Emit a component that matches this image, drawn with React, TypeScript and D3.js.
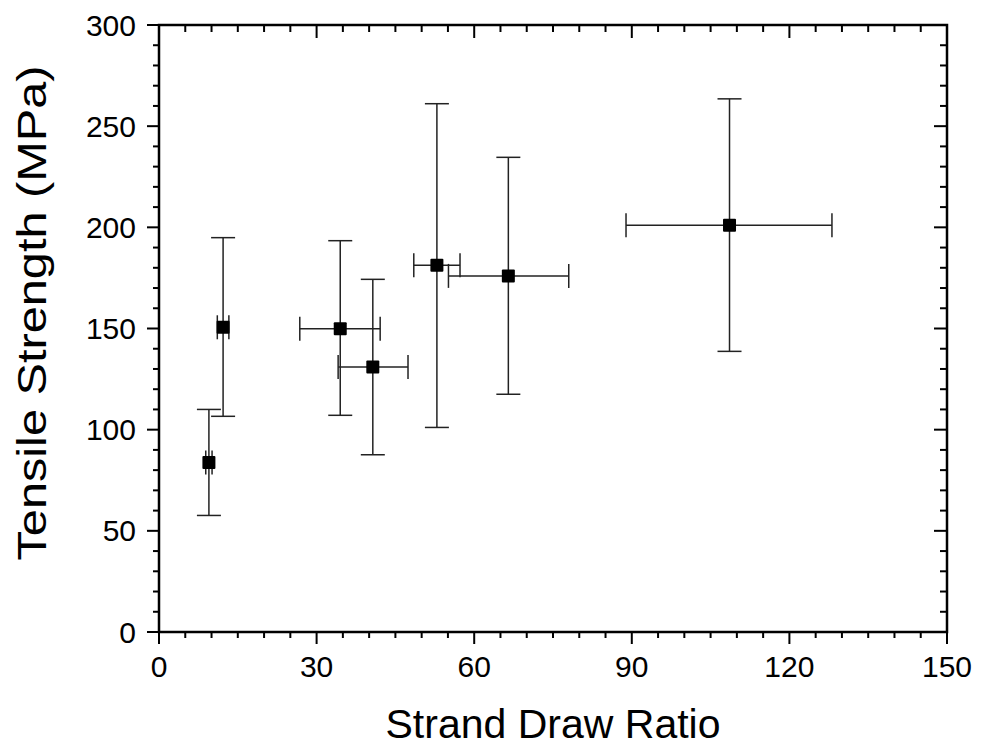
import React from "react";
import * as d3 from "d3";

const drawRatio = [9.5, 12.2, 34.5, 40.7, 52.9, 66.5, 108.6];
const strength = [83.8, 150.6, 149.9, 131.0, 181.2, 176.0, 201.0];
const ratioLow = [8.9, 11.1, 26.8, 34.1, 48.5, 55.1, 88.9];
const ratioHigh = [10.1, 13.3, 42.1, 47.4, 57.3, 78.0, 128.1];
const strengthLow = [57.6, 106.6, 107.1, 87.6, 101.1, 117.5, 138.7];
const strengthHigh = [110.0, 194.9, 193.4, 174.3, 261.1, 234.6, 263.5];

const xMajor = [0, 30, 60, 90, 120, 150];
const yMajor = [0, 50, 100, 150, 200, 250, 300];

const W = 981;
const H = 747;
const M = { left: 159, right: 947, top: 25, bottom: 632 };
const FONT = "'Liberation Sans', Arial, sans-serif";

export default function App() {
  const x = d3.scaleLinear().domain([0, 150]).range([M.left, M.right]);
  const y = d3.scaleLinear().domain([0, 300]).range([M.bottom, M.top]);
  const xMinor = d3.range(0, 151, 5).filter((v) => v % 30 !== 0);
  const yMinor = d3.range(0, 301, 10).filter((v) => v % 50 !== 0);
  const cap = 12;
  const ebColor = "#222";
  const pts = drawRatio.map((d, i) => ({
    x: d,
    y: strength[i],
    xl: ratioLow[i],
    xh: ratioHigh[i],
    yl: strengthLow[i],
    yh: strengthHigh[i],
  }));

  return (
    <svg width={W} height={H} style={{ position: "absolute", left: 0, top: 0, background: "#fff" }}>
      <rect x={0} y={0} width={W} height={H} fill="#fff" />
      {/* error bars */}
      <g stroke={ebColor} strokeWidth={1.5} fill="none">
        {pts.map((p, i) => (
          <g key={i}>
            <line x1={x(p.x)} x2={x(p.x)} y1={y(p.yl)} y2={y(p.yh)} />
            <line x1={x(p.x) - cap} x2={x(p.x) + cap} y1={y(p.yl)} y2={y(p.yl)} />
            <line x1={x(p.x) - cap} x2={x(p.x) + cap} y1={y(p.yh)} y2={y(p.yh)} />
            <line x1={x(p.xl)} x2={x(p.xh)} y1={y(p.y)} y2={y(p.y)} />
            <line x1={x(p.xl)} x2={x(p.xl)} y1={y(p.y) - cap} y2={y(p.y) + cap} />
            <line x1={x(p.xh)} x2={x(p.xh)} y1={y(p.y) - cap} y2={y(p.y) + cap} />
          </g>
        ))}
      </g>
      {/* markers */}
      <g fill="#000">
        {pts.map((p, i) => (
          <rect key={i} x={x(p.x) - 6.5} y={y(p.y) - 6.5} width={13} height={13} rx={1} />
        ))}
      </g>
      {/* ticks */}
      <g stroke="#000" strokeWidth={2}>
        {xMajor.map((v) => (
          <g key={"xM" + v}>
            <line x1={x(v)} x2={x(v)} y1={M.bottom} y2={M.bottom + 12} />
            <line x1={x(v)} x2={x(v)} y1={M.top} y2={M.top + 13} />
          </g>
        ))}
        {xMinor.map((v) => (
          <g key={"xm" + v}>
            <line x1={x(v)} x2={x(v)} y1={M.bottom} y2={M.bottom + 6} />
            <line x1={x(v)} x2={x(v)} y1={M.top} y2={M.top + 7} />
          </g>
        ))}
        {yMajor.map((v) => (
          <g key={"yM" + v}>
            <line x1={M.left - 12} x2={M.left} y1={y(v)} y2={y(v)} />
            <line x1={M.right - 13} x2={M.right} y1={y(v)} y2={y(v)} />
          </g>
        ))}
        {yMinor.map((v) => (
          <g key={"ym" + v}>
            <line x1={M.left - 6} x2={M.left} y1={y(v)} y2={y(v)} />
            <line x1={M.right - 7} x2={M.right} y1={y(v)} y2={y(v)} />
          </g>
        ))}
      </g>
      {/* frame */}
      <rect x={M.left} y={M.top} width={M.right - M.left} height={M.bottom - M.top} fill="none" stroke="#000" strokeWidth={2.5} />
      {/* tick labels */}
      <g fontFamily={FONT} fontSize={30} fill="#000">
        {xMajor.map((v) => (
          <text key={"xl" + v} x={x(v)} y={677} textAnchor="middle">{v}</text>
        ))}
        {yMajor.map((v) => (
          <text key={"yl" + v} x={136} y={y(v) + 10.5} textAnchor="end">{v}</text>
        ))}
      </g>
      <text x={(M.left + M.right) / 2} y={738} textAnchor="middle" fontFamily={FONT} fontSize={41} fill="#000">
        Strand Draw Ratio
      </text>
      <text
        transform={`translate(46,313) rotate(-90)`}
        textAnchor="middle"
        fontFamily={FONT}
        fontSize={41}
        fill="#000"
        textLength={495}
        lengthAdjust="spacingAndGlyphs"
      >
        Tensile Strength (MPa)
      </text>
    </svg>
  );
}
